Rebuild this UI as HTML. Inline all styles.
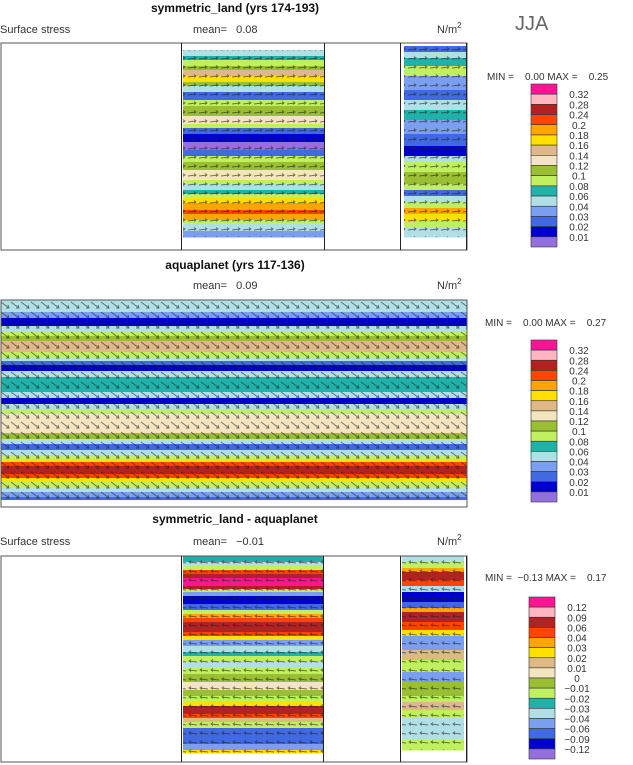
<!DOCTYPE html>
<html><head><meta charset="utf-8"><style>
html,body{margin:0;padding:0;background:#fff;width:633px;height:765px;overflow:hidden}
svg{display:block}
text{font-family:"Liberation Sans",sans-serif;fill:#333}
</style></head><body>
<svg id="s" width="633" height="765" xmlns="http://www.w3.org/2000/svg">
<defs>
<pattern id="arr" width="11" height="9" patternUnits="userSpaceOnUse">
<path d="M1 5 L9 4 M7 2.5 L9 4 L7 5.5" stroke="#222" stroke-width="0.9" fill="none"/>
</pattern>
<pattern id="arrL" width="11" height="9" patternUnits="userSpaceOnUse">
<path d="M10 5 L2 4 M4 2.5 L2 4 L4 5.5" stroke="#222" stroke-width="0.9" fill="none"/>
</pattern>
<pattern id="arrD" width="10" height="10" patternUnits="userSpaceOnUse">
<path d="M1 2 L9 8 M6 8 L9 8 L8 5" stroke="#222" stroke-width="0.9" fill="none"/>
</pattern>
</defs>
<g id="g"></g>
<text x="235" y="12" text-anchor="middle" font-weight="bold" font-size="12" style="fill:#111">symmetric_land (yrs 174-193)</text>
<text x="0" y="33" font-size="11">Surface stress</text>
<text x="193" y="33" font-size="11">mean=&#160;&#160;&#160;0.08</text>
<text x="437" y="33" font-size="11">N/m<tspan font-size="8" dy="-5">2</tspan></text>
<text x="515" y="30" font-size="20" style="fill:#666">JJA</text>
<text x="487" y="80" font-size="10">MIN =&#160;&#160;&#160;&#160;0.00&#160;MAX =&#160;&#160;&#160;&#160;0.25</text>

<text x="235" y="269" text-anchor="middle" font-weight="bold" font-size="12" style="fill:#111">aquaplanet (yrs 117-136)</text>
<text x="193" y="289" font-size="11">mean=&#160;&#160;&#160;0.09</text>
<text x="437" y="289" font-size="11">N/m<tspan font-size="8" dy="-5">2</tspan></text>
<text x="485" y="326" font-size="10">MIN =&#160;&#160;&#160;&#160;0.00&#160;MAX =&#160;&#160;&#160;&#160;0.27</text>

<text x="235" y="523" text-anchor="middle" font-weight="bold" font-size="12" style="fill:#111">symmetric_land - aquaplanet</text>
<text x="0" y="545" font-size="11">Surface stress</text>
<text x="193" y="545" font-size="11">mean=&#160;&#160;&#160;−0.01</text>
<text x="437" y="545" font-size="11">N/m<tspan font-size="8" dy="-5">2</tspan></text>
<text x="485" y="581" font-size="10">MIN =&#160;&#160;−0.13&#160;MAX =&#160;&#160;&#160;&#160;0.17</text>
</svg>
<script>
var C={pk:"#ff1493",lp:"#ffb6c1",br:"#b22222",or:"#ff4500",og:"#ffa500",ye:"#ffe000",tn:"#deb887",wh:"#f5e4c0",gr:"#9abf32",lg:"#c0f060",te:"#20b2aa",lb:"#b0e0e6",cb:"#7b9ff0",bl:"#4169e1",db:"#0000cd",pu:"#9370db",w:"#ffffff"};
var NS="http://www.w3.org/2000/svg",g=document.getElementById("g");
function el(t,a,p){var e=document.createElementNS(NS,t);for(var k in a)e.setAttribute(k,a[k]);(p||g).appendChild(e);return e;}
function bands(x,w,list,pat){for(var i=0;i<list.length;i++){var b=list[i];el("rect",{x:x,y:b[0],width:w,height:b[1]-b[0]+0.5,fill:C[b[2]]});}
 var y0=list[0][0],y1=list[list.length-1][1];el("rect",{x:x,y:y0,width:w,height:y1-y0,fill:"url(#"+(pat||"arr")+")",opacity:0.6});}
var p1=[[50,56,"lb"],[56,60,"te"],[60,66,"lg"],[66,70,"gr"],[70,76,"tn"],[76,82,"ye"],[82,86,"gr"],[86,92,"lb"],[92,100,"bl"],[100,106,"lg"],[106,116,"gr"],[116,124,"wh"],[124,128,"lg"],[128,134,"bl"],[134,142,"db"],[142,150,"pu"],[150,156,"bl"],[156,162,"lg"],[162,170,"gr"],[170,180,"wh"],[180,184,"lg"],[184,190,"lb"],[190,194,"te"],[194,198,"lg"],[198,203,"ye"],[203,210,"og"],[210,214,"or"],[214,220,"og"],[220,224,"lg"],[224,231,"lb"],[231,237,"cb"]];
bands(183,141,p1);
var p1b=[[46,52,"bl"],[52,58,"lb"],[58,66,"te"],[66,76,"lg"],[76,90,"cb"],[90,100,"bl"],[100,110,"lb"],[110,120,"te"],[120,134,"cb"],[134,146,"bl"],[146,156,"db"],[156,162,"lb"],[162,172,"lg"],[172,184,"gr"],[184,190,"lg"],[190,196,"bl"],[196,202,"lb"],[202,208,"lg"],[208,214,"og"],[214,222,"ye"],[222,228,"lg"],[228,237,"lb"]];
bands(404,62,p1b);
var p2=[[300,312,"lb"],[312,318,"cb"],[318,326,"db"],[326,331,"lb"],[331,336,"lg"],[336,341,"gr"],[341,352,"tn"],[352,357,"lg"],[357,361,"lb"],[361,365,"bl"],[365,371,"db"],[371,377,"lb"],[377,392,"te"],[392,398,"lb"],[398,404,"db"],[404,409,"lb"],[409,414,"lg"],[414,433,"wh"],[433,439,"gr"],[439,444,"lb"],[444,450,"bl"],[450,455,"lb"],[455,459,"lg"],[459,462,"ye"],[462,466,"or"],[466,474,"br"],[474,478,"or"],[478,482,"ye"],[482,487,"lg"],[487,492,"lb"],[492,497,"cb"],[497,500,"bl"]];
bands(1,466,p2,"arrD");
el("rect",{x:1,y:500,width:466,height:7,fill:"#fff"});
var p3=[[556,562,"te"],[562,566,"lb"],[566,570,"lg"],[570,574,"or"],[574,578,"br"],[578,586,"pk"],[586,589,"br"],[589,592,"lg"],[592,596,"cb"],[596,604,"db"],[604,610,"bl"],[610,614,"lg"],[614,618,"og"],[618,622,"or"],[622,632,"br"],[632,636,"or"],[636,640,"ye"],[640,646,"cb"],[646,652,"lb"],[652,656,"te"],[656,662,"lg"],[662,668,"lb"],[668,674,"lg"],[674,682,"gr"],[682,690,"wh"],[690,696,"gr"],[696,702,"lg"],[702,706,"ye"],[706,714,"br"],[714,718,"or"],[718,722,"tn"],[722,728,"lg"],[728,744,"bl"],[744,750,"cb"],[750,753,"ye"]];
bands(183,140,p3,"arrL");
var p3b=[[556,562,"lb"],[562,568,"lg"],[568,572,"og"],[572,580,"br"],[580,586,"or"],[586,592,"lb"],[592,602,"db"],[602,608,"bl"],[608,612,"og"],[612,622,"br"],[622,630,"or"],[630,636,"ye"],[636,650,"cb"],[650,660,"tn"],[660,672,"lg"],[672,682,"cb"],[682,696,"gr"],[696,702,"lg"],[702,710,"tn"],[710,718,"lg"],[718,740,"lb"],[740,750,"lg"]];
bands(402,62,p3b,"arrL");
function frame(y0,y1,lines){el("rect",{x:1,y:y0,width:466,height:y1-y0,fill:"none",stroke:"#555","stroke-width":1});
 lines.forEach(function(x){el("line",{x1:x,y1:y0,x2:x,y2:y1,stroke:"#222","stroke-width":1});});}
frame(43,250,[181.5,324.5,400.5,466.5]);
frame(300,507,[]);
frame(556,762,[181.5,323.5,400.5,466.5]);
var cA=["pk","lp","br","or","og","ye","tn","wh","gr","lg","te","lb","cb","bl","db","pu"];
function cbar(x,y0,y1,labels){var h=(y1-y0)/16;for(var i=0;i<16;i++){el("rect",{x:x,y:y0+i*h,width:26,height:h,fill:C[cA[i]],stroke:"#333","stroke-width":0.6});}
 for(var j=0;j<15;j++){var t=el("text",{x:x+48,y:y0+(j+1)*h+4,"font-size":"10","text-anchor":"middle"});t.textContent=labels[j];}}
var L1=["0.32","0.28","0.24","0.2","0.18","0.16","0.14","0.12","0.1","0.08","0.06","0.04","0.03","0.02","0.01"];
var L3=["0.12","0.09","0.06","0.04","0.03","0.02","0.01","0","\u22120.01","\u22120.02","\u22120.03","\u22120.04","\u22120.06","\u22120.09","\u22120.12"];
cbar(531,84,247,L1);
cbar(531,340,502,L1);
cbar(529,597,759,L3);
</script>
</body></html>
